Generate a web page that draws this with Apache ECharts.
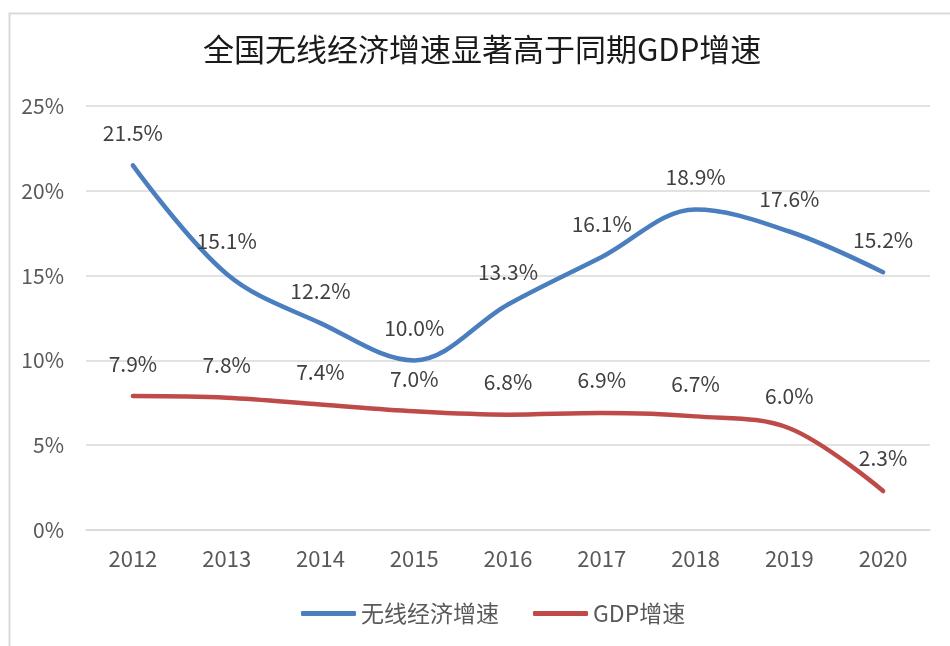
<!DOCTYPE html>
<html>
<head>
<meta charset="utf-8">
<script src="https://cdn.jsdelivr.net/npm/echarts@6/dist/echarts.min.js"></script>
<style>
html,body{margin:0;padding:0;background:#fff;}
#main{width:950px;height:646px;}
</style>
</head>
<body>
<div id="main"></div>
<script>
const titleText = '全国无线经济增速显著高于同期GDP增速';
const categories = ['2012','2013','2014','2015','2016','2017','2018','2019','2020'];
const wirelessName = '无线经济增速';
const gdpName = 'GDP增速';
const wirelessValues = [21.5, 15.1, 12.2, 10.0, 13.3, 16.1, 18.9, 17.6, 15.2];
const gdpValues = [7.9, 7.8, 7.4, 7.0, 6.8, 6.9, 6.7, 6.0, 2.3];
const yTicks = [0, 5, 10, 15, 20, 25];

const FONT = '"Noto Sans CJK SC", "Noto Sans", sans-serif';
const BLUE = '#4a7ebf', RED = '#be4b48';
const chart = echarts.init(document.getElementById('main'), null, {renderer:'canvas'});
chart.setOption({
  backgroundColor: '#ffffff',
  animation: false,
  graphic: [{
    type: 'rect', left: 7, top: 11, z: -10, silent: true,
    shape: {width: 1000, height: 700},
    style: {fill: 'none', stroke: '#d9d9d9', lineWidth: 2}
  }],
  title: {
    text: titleText, left: 198, top: 29,
    textStyle: {fontFamily: FONT, fontSize: 31, fontWeight: 'normal', color: '#1a1a1a'}
  },
  legend: {
    bottom: 16, left: 296,
    itemWidth: 55, itemHeight: 5, itemGap: 34,
    icon: 'roundRect',
    textStyle: {fontFamily: FONT, fontSize: 23, color: '#595959'},
    data: [
      {name: wirelessName, itemStyle: {color: BLUE}},
      {name: gdpName, itemStyle: {color: RED}}
    ]
  },
  grid: {left: 86, right: 20, top: 106, bottom: 116},
  xAxis: {
    type: 'category', data: categories, boundaryGap: true,
    axisLine: {show: true, lineStyle: {color: '#d9d9d9', width: 1.5}},
    axisTick: {show: false},
    axisLabel: {fontFamily: FONT, fontSize: 22, color: '#595959', margin: 18}
  },
  yAxis: {
    type: 'value', min: yTicks[0], max: yTicks[yTicks.length-1], interval: 5,
    axisLine: {show: false}, axisTick: {show: false},
    splitLine: {lineStyle: {color: '#d9d9d9', width: 1.5}},
    axisLabel: {fontFamily: FONT, fontSize: 21, color: '#595959', margin: 22, formatter: v => v + '%'}
  },
  series: [
    {
      name: wirelessName, type: 'line', data: wirelessValues, smooth: 0.35,
      symbol: 'circle', symbolSize: 0, showSymbol: true,
      lineStyle: {color: BLUE, width: 4.5, cap: 'round'},
      itemStyle: {color: BLUE},
      label: {show: true, position: 'top', distance: 22, fontFamily: FONT, fontSize: 21, color: '#404040',
        formatter: p => p.value.toFixed(1) + '%'}
    },
    {
      name: gdpName, type: 'line', data: gdpValues, smooth: 0.35,
      symbol: 'circle', symbolSize: 0, showSymbol: true,
      lineStyle: {color: RED, width: 4.5, cap: 'round'},
      itemStyle: {color: RED},
      label: {show: true, position: 'top', distance: 22, fontFamily: FONT, fontSize: 21, color: '#404040',
        formatter: p => p.value.toFixed(1) + '%'}
    }
  ]
});
</script>
</body>
</html>
